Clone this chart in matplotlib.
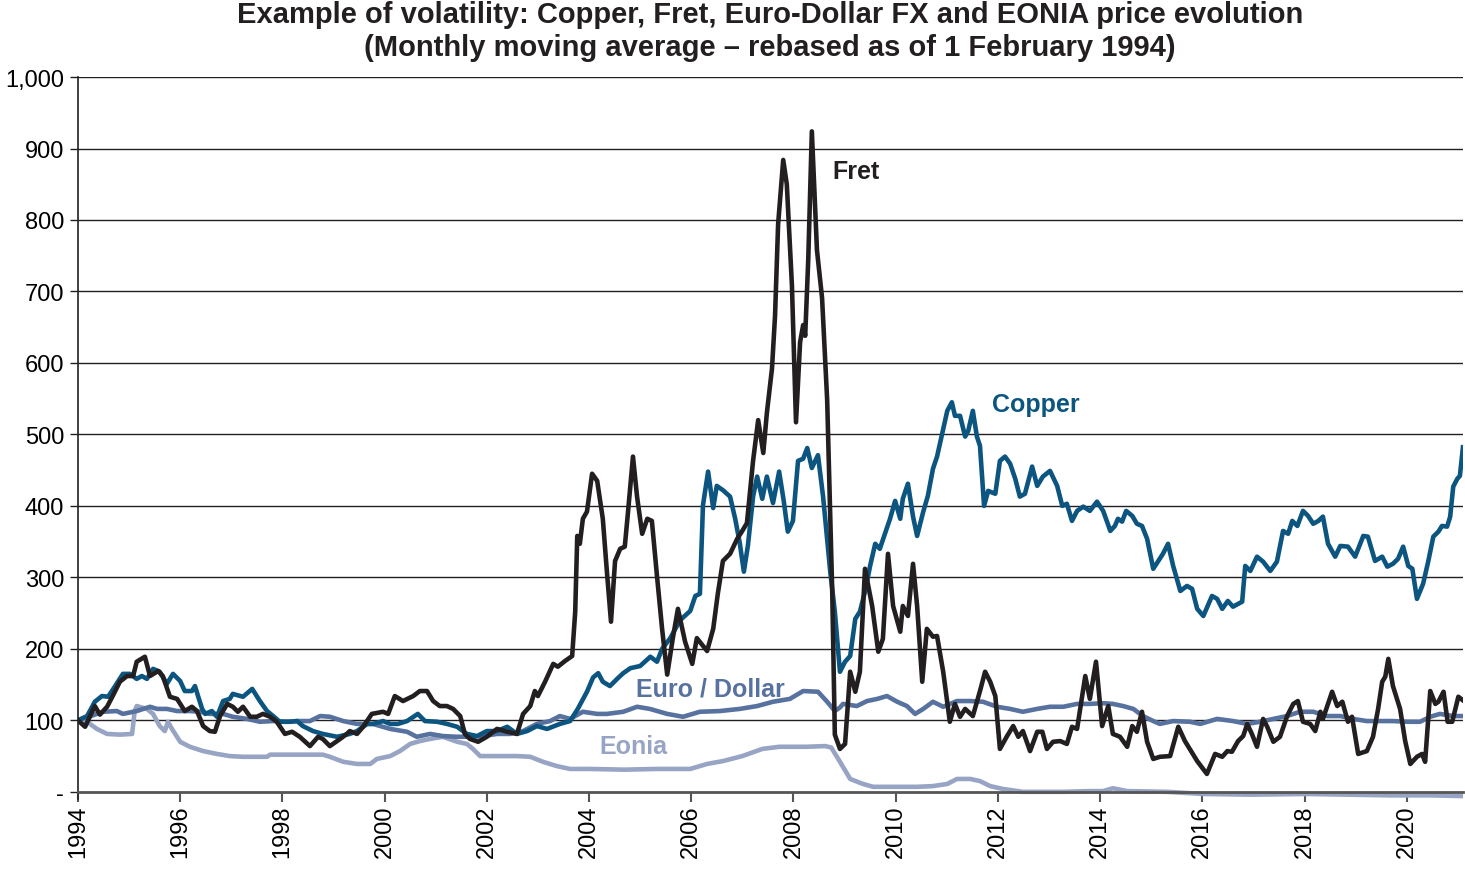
import matplotlib

matplotlib.use("Agg")

import matplotlib.pyplot as plt

plt.rcParams["font.family"] = ["Liberation Sans", "DejaVu Sans"]

# values (rebased, 1 Feb 1994 = 100)
fret_years = [
    1994.00, 1994.14, 1994.33, 1994.43, 1994.57, 1994.68, 1994.82, 1994.96,
    1995.08, 1995.15, 1995.31, 1995.41, 1995.57, 1995.66, 1995.80, 1995.94,
    1996.09, 1996.23, 1996.33, 1996.45, 1996.58, 1996.68, 1996.78, 1996.92,
    1997.03, 1997.13, 1997.23, 1997.37, 1997.50, 1997.62, 1997.76, 1997.89,
    1998.05, 1998.19, 1998.34, 1998.54, 1998.70, 1998.79, 1998.93, 1999.13,
    1999.26, 1999.32, 1999.46, 1999.58, 1999.75, 1999.97, 2000.07, 2000.20,
    2000.36, 2000.56, 2000.69, 2000.83, 2000.95, 2001.08, 2001.22, 2001.34,
    2001.48, 2001.57, 2001.67, 2001.83, 2002.00, 2002.20, 2002.40, 2002.59,
    2002.71, 2002.85, 2002.94, 2003.00, 2003.14, 2003.30, 2003.39, 2003.53,
    2003.67, 2003.73, 2003.77, 2003.82, 2003.88, 2003.96, 2004.06, 2004.16,
    2004.27, 2004.35, 2004.43, 2004.51, 2004.61, 2004.70, 2004.76, 2004.86,
    2004.94, 2005.04, 2005.14, 2005.23, 2005.33, 2005.43, 2005.53, 2005.64,
    2005.74, 2005.88, 2006.02, 2006.11, 2006.31, 2006.43, 2006.52, 2006.62,
    2006.76, 2006.90, 2006.99, 2007.09, 2007.21, 2007.31, 2007.41, 2007.48,
    2007.58, 2007.64, 2007.70, 2007.80, 2007.87, 2007.97, 2008.05, 2008.13,
    2008.19, 2008.23, 2008.29, 2008.36, 2008.46, 2008.56, 2008.66, 2008.76,
    2008.81, 2008.91, 2009.01, 2009.11, 2009.21, 2009.30, 2009.40, 2009.54,
    2009.66, 2009.75, 2009.85, 2009.95, 2010.09, 2010.14, 2010.24, 2010.34,
    2010.42, 2010.52, 2010.61, 2010.73, 2010.81, 2010.93, 2011.06, 2011.16,
    2011.26, 2011.36, 2011.51, 2011.65, 2011.75, 2011.85, 2011.95, 2012.04,
    2012.18, 2012.30, 2012.40, 2012.49, 2012.63, 2012.77, 2012.87, 2012.96,
    2013.08, 2013.22, 2013.35, 2013.45, 2013.55, 2013.71, 2013.80, 2013.92,
    2014.04, 2014.16, 2014.25, 2014.39, 2014.53, 2014.63, 2014.72, 2014.82,
    2014.92, 2015.04, 2015.17, 2015.37, 2015.53, 2015.66, 2015.90, 2016.09,
    2016.25, 2016.39, 2016.49, 2016.58, 2016.70, 2016.80, 2016.88, 2016.97,
    2017.07, 2017.19, 2017.27, 2017.39, 2017.52, 2017.66, 2017.78, 2017.87,
    2017.97, 2018.11, 2018.21, 2018.31, 2018.36, 2018.54, 2018.64, 2018.74,
    2018.85, 2018.93, 2019.05, 2019.22, 2019.34, 2019.44, 2019.52, 2019.58,
    2019.64, 2019.73, 2019.87, 2019.97, 2020.07, 2020.20, 2020.30, 2020.36,
    2020.46, 2020.56, 2020.62, 2020.72, 2020.80, 2020.89, 2021.01, 2021.10,
]
fret_values = [
    100, 91, 120, 108, 119, 134, 154, 162,
    162, 182, 189, 162, 169, 162, 133, 130,
    113, 119, 113, 92, 85, 84, 106, 123,
    119, 112, 119, 105, 105, 109, 105, 98,
    81, 84, 77, 64, 77, 74, 64, 74,
    81, 85, 81, 91, 109, 112, 109, 134,
    127, 134, 141, 141, 127, 120, 120, 116,
    106, 81, 74, 70, 77, 88, 84, 81,
    109, 120, 141, 134, 154, 179, 175, 183,
    190, 252, 358, 347, 382, 392, 445, 435,
    382, 308, 238, 323, 340, 343, 389, 469,
    413, 361, 382, 379, 302, 228, 164, 215,
    256, 210, 179, 215, 197, 228, 277, 323,
    333, 354, 364, 376, 463, 520, 474, 530,
    592, 666, 794, 884, 850, 709, 517, 629,
    653, 638, 745, 924, 758, 691, 548, 277,
    80, 60, 67, 168, 140, 168, 312, 260,
    196, 214, 333, 260, 224, 260, 246, 319,
    260, 154, 228, 217, 218, 168, 98, 123,
    105, 116, 106, 141, 168, 154, 134, 60,
    78, 92, 77, 85, 57, 84, 84, 60,
    70, 71, 67, 91, 88, 162, 130, 182,
    92, 120, 81, 77, 63, 92, 84, 112,
    70, 46, 49, 50, 91, 71, 43, 25,
    53, 49, 57, 56, 71, 78, 95, 81,
    63, 102, 91, 70, 77, 106, 123, 127,
    98, 95, 85, 112, 102, 140, 120, 126,
    98, 105, 53, 57, 77, 116, 154, 161,
    186, 148, 116, 71, 39, 49, 53, 42,
    141, 123, 126, 140, 98, 98, 133, 128,
]

copper_years = [
    1994.00, 1994.18, 1994.33, 1994.47, 1994.59, 1994.72, 1994.88, 1995.02,
    1995.15, 1995.25, 1995.35, 1995.47, 1995.60, 1995.74, 1995.86, 1996.00,
    1996.09, 1996.23, 1996.29, 1996.35, 1996.43, 1996.49, 1996.62, 1996.72,
    1996.84, 1996.97, 1997.03, 1997.23, 1997.41, 1997.56, 1997.70, 1997.82,
    1997.95, 1998.15, 1998.29, 1998.40, 1998.60, 1998.79, 1999.07, 1999.32,
    1999.46, 1999.66, 1999.77, 1999.97, 2000.11, 2000.26, 2000.44, 2000.65,
    2000.79, 2001.03, 2001.22, 2001.42, 2001.61, 2001.81, 2002.00, 2002.20,
    2002.40, 2002.59, 2002.79, 2002.98, 2003.18, 2003.43, 2003.63, 2003.78,
    2003.96, 2004.08, 2004.18, 2004.27, 2004.41, 2004.55, 2004.67, 2004.81,
    2005.00, 2005.20, 2005.33, 2005.43, 2005.59, 2005.78, 2005.98, 2006.08,
    2006.17, 2006.23, 2006.33, 2006.43, 2006.50, 2006.62, 2006.76, 2006.86,
    2006.95, 2007.03, 2007.11, 2007.21, 2007.29, 2007.39, 2007.48, 2007.60,
    2007.72, 2007.81, 2007.89, 2007.99, 2008.09, 2008.19, 2008.27, 2008.36,
    2008.48, 2008.58, 2008.72, 2008.81, 2008.91, 2009.01, 2009.11, 2009.21,
    2009.30, 2009.40, 2009.50, 2009.60, 2009.69, 2009.79, 2009.89, 2009.99,
    2010.09, 2010.14, 2010.24, 2010.34, 2010.42, 2010.54, 2010.63, 2010.73,
    2010.81, 2010.91, 2011.01, 2011.10, 2011.16, 2011.26, 2011.36, 2011.42,
    2011.51, 2011.59, 2011.65, 2011.73, 2011.81, 2011.95, 2012.04, 2012.14,
    2012.24, 2012.34, 2012.43, 2012.53, 2012.67, 2012.77, 2012.88, 2013.02,
    2013.16, 2013.26, 2013.35, 2013.45, 2013.55, 2013.67, 2013.80, 2013.94,
    2014.06, 2014.20, 2014.29, 2014.35, 2014.43, 2014.51, 2014.63, 2014.72,
    2014.82, 2014.92, 2015.04, 2015.14, 2015.23, 2015.33, 2015.43, 2015.57,
    2015.70, 2015.80, 2015.90, 2016.02, 2016.19, 2016.29, 2016.39, 2016.50,
    2016.60, 2016.78, 2016.84, 2016.94, 2017.07, 2017.19, 2017.33, 2017.46,
    2017.58, 2017.68, 2017.76, 2017.86, 2017.97, 2018.07, 2018.17, 2018.27,
    2018.36, 2018.46, 2018.60, 2018.70, 2018.85, 2018.99, 2019.15, 2019.24,
    2019.38, 2019.52, 2019.62, 2019.73, 2019.83, 2019.93, 2020.03, 2020.11,
    2020.20, 2020.32, 2020.42, 2020.52, 2020.62, 2020.69, 2020.79, 2020.85,
    2020.91, 2020.99, 2021.04, 2021.10,
]
copper_values = [
    100, 106, 126, 134, 133, 147, 165, 165,
    158, 162, 158, 172, 168, 151, 165, 155,
    141, 141, 148, 134, 116, 109, 113, 105,
    127, 130, 137, 133, 144, 127, 113, 106,
    98, 98, 99, 92, 85, 81, 77, 81,
    85, 95, 95, 99, 95, 95, 99, 109,
    99, 98, 95, 91, 81, 78, 85, 85,
    91, 81, 85, 92, 88, 95, 99, 116,
    140, 160, 166, 154, 148, 158, 166, 173,
    176, 189, 182, 200, 215, 240, 253, 274,
    277, 401, 448, 397, 428, 422, 413, 382,
    348, 308, 345, 413, 441, 410, 441, 404,
    448, 407, 364, 379, 463, 466, 481, 453,
    471, 413, 308, 252, 168, 182, 190, 242,
    252, 280, 316, 347, 340, 361, 382, 407,
    382, 410, 431, 385, 358, 392, 414, 452,
    469, 501, 533, 545, 526, 526, 497, 505,
    533, 497, 484, 400, 421, 417, 463, 469,
    459, 438, 413, 417, 455, 428, 441, 449,
    428, 400, 403, 379, 393, 399, 393, 406,
    393, 365, 372, 382, 378, 393, 386, 375,
    372, 354, 312, 323, 333, 347, 316, 281,
    288, 284, 256, 246, 274, 270, 256, 267,
    259, 266, 316, 309, 329, 322, 309, 322,
    365, 361, 379, 372, 393, 386, 375, 379,
    385, 347, 329, 344, 343, 329, 358, 357,
    323, 329, 315, 319, 326, 343, 316, 312,
    270, 291, 322, 357, 364, 372, 371, 385,
    427, 438, 442, 482,
]

euro_years = [
    1994.00, 1994.25, 1994.49, 1994.76, 1994.88, 1995.15, 1995.41, 1995.55,
    1995.74, 1995.94, 1996.19, 1996.39, 1996.58, 1996.84, 1997.03, 1997.31,
    1997.56, 1997.82, 1998.09, 1998.29, 1998.54, 1998.74, 1998.93, 1999.19,
    1999.46, 1999.77, 2000.11, 2000.44, 2000.63, 2000.89, 2001.14, 2001.42,
    2001.67, 2001.93, 2002.20, 2002.45, 2002.71, 2002.98, 2003.24, 2003.43,
    2003.63, 2003.88, 2004.16, 2004.35, 2004.67, 2004.94, 2005.19, 2005.53,
    2005.84, 2006.17, 2006.56, 2006.95, 2007.29, 2007.60, 2007.93, 2008.19,
    2008.48, 2008.66, 2008.81, 2008.91, 2008.97, 2009.24, 2009.44, 2009.64,
    2009.83, 2010.03, 2010.22, 2010.38, 2010.54, 2010.73, 2010.93, 2011.20,
    2011.46, 2011.71, 2011.98, 2012.24, 2012.49, 2012.77, 2013.02, 2013.28,
    2013.55, 2013.80, 2014.06, 2014.25, 2014.45, 2014.65, 2014.84, 2015.04,
    2015.17, 2015.43, 2015.76, 2015.96, 2016.29, 2016.60, 2016.88, 2017.13,
    2017.39, 2017.66, 2017.91, 2018.17, 2018.44, 2018.70, 2018.95, 2019.22,
    2019.48, 2019.73, 2020.01, 2020.26, 2020.46, 2020.65, 2020.91, 2021.10,
]
euro_values = [
    100, 106, 112, 113, 109, 113, 119, 116,
    116, 113, 113, 112, 109, 109, 105, 102,
    98, 99, 98, 99, 99, 106, 105, 99,
    95, 95, 88, 84, 77, 81, 78, 77,
    77, 78, 81, 81, 85, 95, 99, 106,
    102, 112, 109, 109, 112, 119, 116, 109,
    105, 112, 113, 116, 120, 126, 130, 141,
    140, 126, 113, 118, 123, 120, 127, 130,
    134, 126, 120, 109, 116, 126, 119, 127,
    127, 126, 119, 116, 112, 116, 119, 119,
    123, 123, 124, 123, 120, 116, 106, 99,
    95, 99, 98, 95, 102, 99, 95, 98,
    102, 106, 112, 112, 106, 106, 102, 99,
    99, 99, 98, 98, 105, 109, 106, 106,
]

eonia_years = [
    1994.00, 1994.18, 1994.37, 1994.57, 1994.82, 1995.06, 1995.11, 1995.15,
    1995.35, 1995.47, 1995.60, 1995.70, 1995.76, 1995.84, 1996.00, 1996.19,
    1996.45, 1996.72, 1996.97, 1997.23, 1997.50, 1997.70, 1997.76, 1998.02,
    1998.40, 1998.79, 1998.93, 1999.19, 1999.46, 1999.72, 1999.85, 2000.11,
    2000.30, 2000.50, 2000.69, 2000.89, 2001.14, 2001.42, 2001.61, 2001.73,
    2001.87, 2002.20, 2002.59, 2002.85, 2003.10, 2003.37, 2003.63, 2004.02,
    2004.69, 2005.33, 2005.98, 2006.31, 2006.62, 2007.00, 2007.39, 2007.72,
    2008.25, 2008.62, 2008.74, 2008.91, 2009.11, 2009.36, 2009.56, 2010.03,
    2010.42, 2010.73, 2011.01, 2011.20, 2011.46, 2011.65, 2011.85, 2012.10,
    2012.49, 2013.28, 2013.80, 2014.06, 2014.25, 2014.53, 2015.31, 2016.02,
    2016.94, 2018.05, 2019.68, 2020.52, 2021.10,
]
eonia_values = [
    100, 98, 88, 81, 80, 81, 113, 120,
    116, 109, 92, 85, 98, 88, 70, 63,
    57, 53, 50, 49, 49, 49, 52, 52,
    52, 52, 49, 42, 39, 39, 46, 50,
    57, 67, 71, 74, 77, 70, 67, 60,
    50, 50, 50, 49, 42, 36, 32, 32,
    31, 32, 32, 39, 43, 50, 60, 63,
    63, 64, 62, 42, 18, 11, 7, 7,
    7, 8, 11, 18, 18, 15, 8, 4,
    0, 0, 1, 1, 5, 1, 0, -3,
    -4, -3, -5, -5, -6,
]

x_tick_years = list(range(1994, 2021, 2))
y_tick_values = [0, 100, 200, 300, 400, 500, 600, 700, 800, 900, 1000]
y_tick_labels = ["-", "100", "200", "300", "400", "500", "600", "700", "800", "900", "1,000"]

FRET_COLOR = "#231f20"
COPPER_COLOR = "#0b5580"
EURO_COLOR = "#5872a0"
EONIA_COLOR = "#97a4c4"

figure = plt.figure(figsize=(14.65, 8.7), dpi=100)
axis = figure.add_axes([0.0532, 0.0805, 0.9454, 0.8298])

# move the x axis to y = 0 first: set_position resets the ticks
for side in ["top", "right"]:
    axis.spines[side].set_visible(False)
axis.spines["bottom"].set_position(("data", 0))
axis.spines["bottom"].set_color("#555555")
axis.spines["bottom"].set_linewidth(2.0)
axis.spines["left"].set_color("#231f20")
axis.spines["left"].set_linewidth(1.2)

axis.plot(eonia_years, eonia_values, color=EONIA_COLOR, linewidth=3.3, solid_joinstyle="round")
axis.plot(euro_years, euro_values, color=EURO_COLOR, linewidth=3.3, solid_joinstyle="round")
axis.plot(copper_years, copper_values, color=COPPER_COLOR, linewidth=3.3, solid_joinstyle="round")
axis.plot(fret_years, fret_values, color=FRET_COLOR, linewidth=3.3, solid_joinstyle="round")

axis.set_xlim(1994, 2021.1)
axis.set_ylim(-10, 1000)

axis.set_yticks(y_tick_values)
axis.set_yticklabels(y_tick_labels)
axis.set_xticks(x_tick_years)
axis.set_xticklabels([str(year) for year in x_tick_years])

for value in y_tick_values[1:]:
    axis.axhline(value, color="#231f20", linewidth=1.0, zorder=0)

axis.tick_params(axis="y", labelsize=17, length=6, width=1.0, color="#231f20", pad=4)
axis.tick_params(axis="x", labelsize=17, length=7, width=1.5, color="#555555", pad=2,
                 labelrotation=90)

axis.text(2008.76, 868, "Fret", color=FRET_COLOR, fontsize=18, fontweight="bold", va="center")
axis.text(2011.89, 542, "Copper", color=COPPER_COLOR, fontsize=18, fontweight="bold", va="center")
axis.text(2004.92, 144, "Euro / Dollar", color=EURO_COLOR, fontsize=18, fontweight="bold", va="center")
axis.text(2004.21, 64, "Eonia", color=EONIA_COLOR, fontsize=18, fontweight="bold", va="center")

figure.text(
    0.5258,
    0.999,
    "Example of volatility: Copper, Fret, Euro-Dollar FX and EONIA price evolution\n"
    "(Monthly moving average \u2013 rebased as of 1 February 1994)",
    ha="center",
    va="top",
    fontsize=21,
    fontweight="bold",
    color="#231f20",
    linespacing=1.25,
)

figure.savefig("out.png", dpi=100)
plt.close(figure)
